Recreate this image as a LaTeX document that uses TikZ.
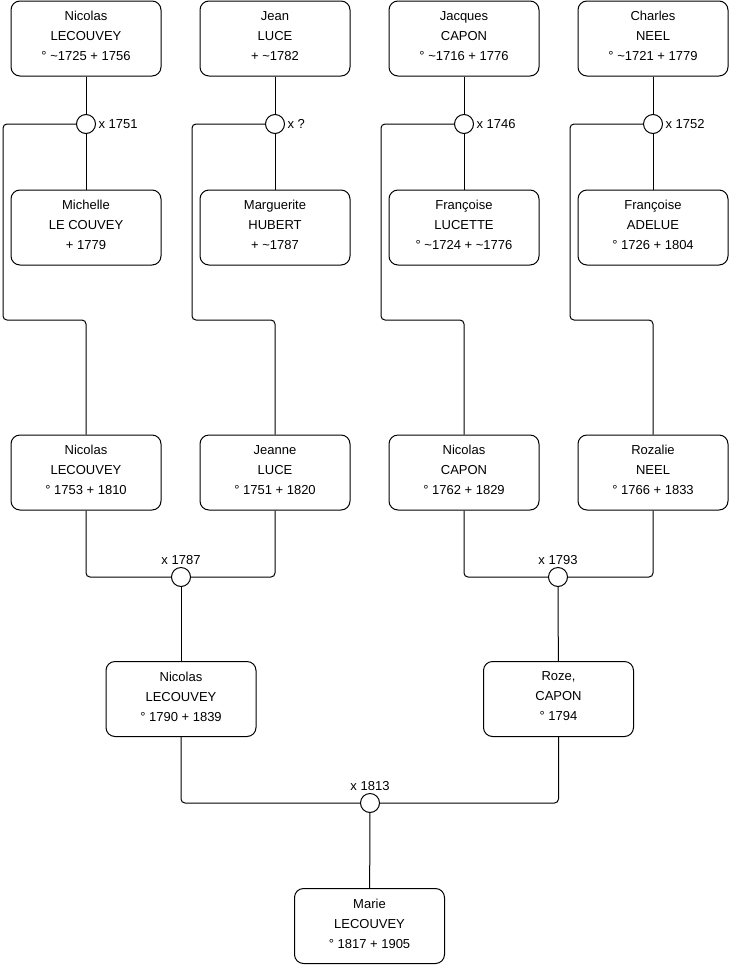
\documentclass[tikz,border=0pt]{standalone}
\usepackage{fontspec}
\setmainfont{Liberation Sans}
\begin{document}
\begin{tikzpicture}[x=1pt, y=-1pt, line width=1pt,
        p/.style={draw, rounded corners=9pt, minimum width=150pt, minimum height=75pt,
          inner sep=0pt, text depth=5pt, align=center, font=\fontsize{13}{20}\selectfont},
        h/.style={draw, circle, fill=white, minimum size=19pt, inner sep=0pt, label distance=2pt},
        lbl/.style={font=\fontsize{13}{15}\selectfont, inner sep=2pt},
        v/.style={rounded corners=4pt}]
        \useasboundingbox (0,0) rectangle (740,975);
        % Urgrosseltern: Maenner oben, Frauen darunter
        \foreach \t [count=\i from 0] in {{Nicolas\\LECOUVEY\\° \textasciitilde1725 + 1756},
            {Jean\\LUCE\\+ \textasciitilde1782}, {Jacques\\CAPON\\° \textasciitilde1716 + 1776},
            {Charles\\NEEL\\° \textasciitilde1721 + 1779}}   {\node[p] (a\i) at (86+189*\i,38.5){\t};}
        \foreach \t [count=\i from 0] in {{Michelle\\LE COUVEY\\+ 1779},
            {Marguerite\\HUBERT\\+ \textasciitilde1787}, {Françoise\\LUCETTE\\° \textasciitilde1724 + \textasciitilde1776},
            {Françoise\\ADELUE\\° 1726 + 1804}}   {\node[p] (b\i) at (86+189*\i,227.5){\t};}
        \foreach \l [count=\i from 0] in {x 1751, x ?, x 1746, x 1752}
            {\node[h, label={[lbl]right:\l}] (m\i) at (86+189*\i,124){};}
        % Grosseltern
        \foreach \t [count=\i from 0] in {{Nicolas\\LECOUVEY\\° 1753 + 1810},
            {Jeanne\\LUCE\\° 1751 + 1820}, {Nicolas\\CAPON\\° 1762 + 1829},
            {Rozalie\\NEEL\\° 1766 + 1833}}   {\node[p] (c\i) at (86+189*\i,472.5){\t};}
        \foreach \i in {0,...,3} {
            \draw (a\i) -- (m\i) -- (b\i);
            \draw[v] (m\i.west) -| (3+189*\i,320) -| (c\i.north);
        }
        \node[h, label={[lbl]above:x 1787}] (h0) at (181,577){};
        \node[h, label={[lbl]above:x 1793}] (h1) at (558,577){};
        \draw[v] (c0.south) |- (h0.west);
        \draw[v] (c1.south) |- (h0.east);
        \draw[v] (c2.south) |- (h1.west);
        \draw[v] (c3.south) |- (h1.east);
        % Eltern
        \node[p] (d0) at (181,699){Nicolas\\LECOUVEY\\° 1790 + 1839};
        \node[p] (d1) at (558.5,699){Roze,\\CAPON\\° 1794};
        \draw (h0) -- (d0);
        \draw (h1) -- (d1);
        % Marie
        \node[h, label={[lbl]above:x 1813}] (g) at (370,803){};
        \node[p] (e) at (369.5,926){Marie\\LECOUVEY\\° 1817 + 1905};
        \draw[v] (d0.south) |- (g.west);
        \draw[v] (d1.south) |- (g.east);
        \draw (g) -- (e);
    \end{tikzpicture}
\end{document}
